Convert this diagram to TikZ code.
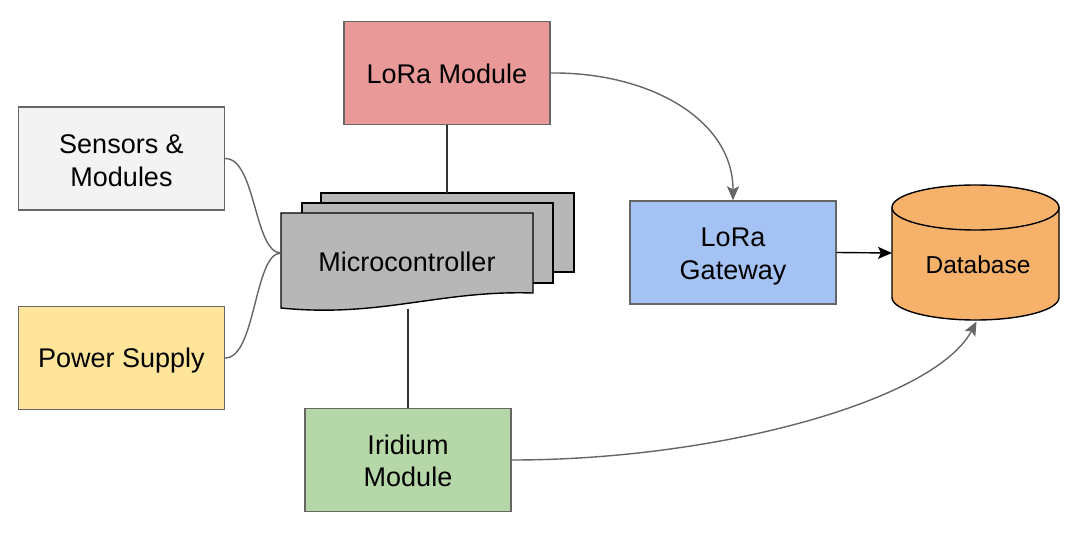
\documentclass[tikz,border=0pt]{standalone}
\usepackage{fontspec}
\setmainfont{Liberation Sans}
\usetikzlibrary{arrows.meta}
\definecolor{edgegray}{HTML}{666666}
\definecolor{loraRed}{HTML}{EA9999}
\definecolor{sensGray}{HTML}{F3F3F3}
\definecolor{powYel}{HTML}{FFE599}
\definecolor{iriGreen}{HTML}{B6D7A8}
\definecolor{gwBlue}{HTML}{A4C2F4}
\definecolor{dbOrange}{HTML}{F6B26B}
\definecolor{mcGray}{HTML}{B7B7B7}
\definecolor{darkline}{HTML}{333333}
\begin{document}
\begin{tikzpicture}[x=1pt,y=-1pt,
  box/.style={draw=edgegray, line width=1.4pt, minimum width=206pt, minimum height=103pt,
    inner sep=0pt},
  txt/.style={inner sep=0pt, align=center, font=\fontsize{27}{32.5}\selectfont},
  mcshape/.style={draw=black, fill=mcGray, line width=1.4pt, line join=miter},
  conn/.style={draw=edgegray, line width=1.4pt},
  vline/.style={draw=darkline, line width=1.4pt},
  tip/.style={-{Stealth[length=14pt,width=12pt,inset=3pt]}}
]
\useasboundingbox (0,0) rectangle (1083,534);
\fill[white] (0,0) rectangle (1083,534);

% boxes
\node[box, fill=loraRed, label={[txt,yshift=-1pt]center:LoRa Module}] (lora) at (447,73) {};
\node[box, fill=sensGray, label={[txt,yshift=-2pt]center:Sensors \&\\Modules}] (sens) at (121.5,158.5) {};
\node[box, fill=powYel, label={[txt,yshift=-3pt]center:Power Supply}] (pow) at (121.5,358) {};
\node[box, fill=iriGreen, label={[txt,yshift=-1pt]center:Iridium\\Module}] (iri) at (408,460) {};
\node[box, fill=gwBlue, label={[txt,yshift=-4pt]center:LoRa\\Gateway}] (gw) at (733,252.5) {};

% microcontroller (multi-document)
\draw[mcshape] (321,193) rectangle (574,272);
\draw[mcshape] (302,203) rectangle (553,283);
\draw[mcshape] (281,213) -- (533,213) -- (533,293)
  .. controls (440,290) and (380,318) .. (281,308) -- cycle;
\node[txt] (mc) at (407,262) {Microcontroller};
\coordinate (mcL) at (281,253);
\coordinate (mcT) at (447,193);
\coordinate (mcB) at (408,309);

% database cylinder
\filldraw[fill=dbOrange, draw=black, line width=1.4pt]
  (892,207.5) -- (892,297.5)
  .. controls (892,309.9) and (929.4,320) .. (975.5,320)
  .. controls (1021.6,320) and (1059,309.9) .. (1059,297.5)
  -- (1059,207.5) -- cycle;
\filldraw[fill=dbOrange, draw=black, line width=1.4pt]
  (975.5,207.5) ellipse [x radius=83.5, y radius=22.5];
\node[inner sep=0pt, font=\fontsize{24.5}{29}\selectfont] (db) at (978,265) {Database};
\coordinate (dbL) at (892,253);
\coordinate (dbB) at (976.5,321.5);

% connectors
\draw[vline] (lora.south) -- (mcT);
\draw[vline] (mcB) -- (iri.north);
\draw[conn] (sens.east) .. controls (256,158.5) and (254,253) .. (mcL);
\draw[conn] (pow.east) .. controls (256,358) and (254,253) .. (mcL);
\draw[conn, tip] (lora.east) .. controls (650,72) and (733,120) .. (gw.north);
\draw[draw=black, line width=1.4pt, tip] (gw.east) -- (dbL);
\draw[conn, tip] (iri.east) .. controls (720,460) and (935,400) .. (dbB);
\end{tikzpicture}
\end{document}
